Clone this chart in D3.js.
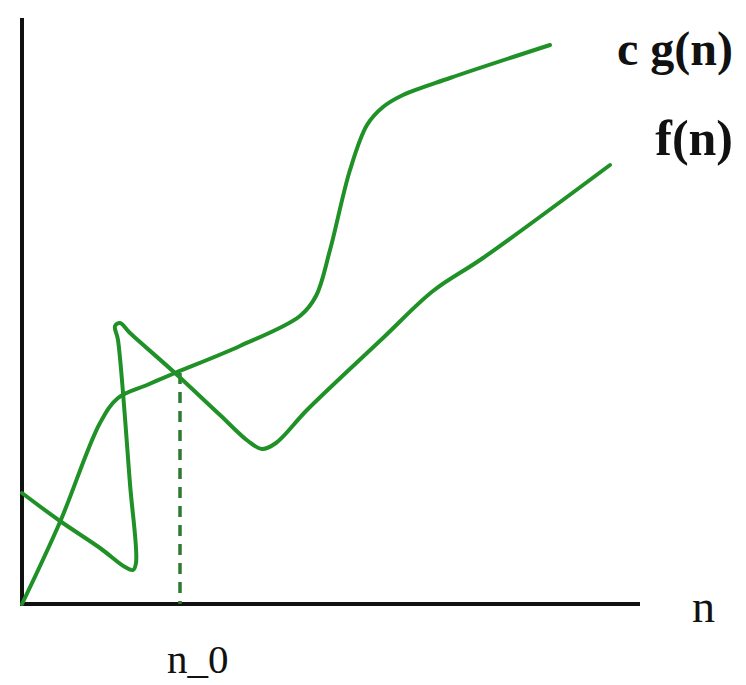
<!DOCTYPE html>
<html>
<head>
<meta charset="utf-8">
<script src="https://cdn.jsdelivr.net/npm/d3@7"></script>
<style>
  body { margin: 0; background: #fff; }
  svg { display: block; }
</style>
</head>
<body>
<div class="chart"></div>
<script>
'use strict'

// Curve points (n, value).
const cgN = [0, 38, 78, 96, 125, 153, 218, 278, 294, 308, 328, 345, 361, 381, 428, 528];
const cgV = [0, 82, 181, 206, 219, 231, 258, 288, 308, 354, 434, 479, 497, 509, 526, 559];

const fN = [0, 38, 78, 103, 111, 114, 108, 96, 93, 98, 108, 153, 198, 226, 240, 254, 285, 361, 411, 461, 588];
const fV = [111, 83, 56, 37, 34, 41, 120, 264, 278, 281, 271, 231, 189, 163, 155, 161, 194, 266, 313, 346, 439];

const n0 = 158;
const n0Value = 231;

const labels = ['c g(n)', 'f(n)', 'n', 'n_0'];

// Dimensions
const width = 746,
    height = 685,
    green = '#1f9127';

const x = d3.scaleLinear().domain([0, 620]).range([22, 642]);
const y = d3.scaleLinear().domain([0, 590]).range([604, 14]);

const svg = d3.select('.chart')
    .append('svg')
        .attr('width', width)
        .attr('height', height)
        .attr('viewBox', [0, 0, width, height]);

// Axes drawn as plain lines.
svg.append('line')
    .attr('x1', x(0)).attr('x2', x(0))
    .attr('y1', y(0) + 2).attr('y2', y(586))
    .attr('stroke', '#111').attr('stroke-width', 4);

svg.append('line')
    .attr('x1', x(0) - 2).attr('x2', x(618))
    .attr('y1', y(0)).attr('y2', y(0))
    .attr('stroke', '#111').attr('stroke-width', 4);

// n_0 dashed guide.
svg.append('line')
    .attr('x1', x(n0)).attr('x2', x(n0))
    .attr('y1', y(n0Value)).attr('y2', y(0))
    .attr('stroke', '#2f7a32')
    .attr('stroke-width', 3.5)
    .attr('stroke-dasharray', '11 8');

const line = d3.line()
    .x(d => x(d[0]))
    .y(d => y(d[1]))
    .curve(d3.curveCatmullRom.alpha(0.5));

const cg = d3.zip(cgN, cgV);
const f = d3.zip(fN, fV);

svg.selectAll('path.curve')
    .data([cg, f])
    .join('path')
        .attr('class', 'curve')
        .attr('d', line)
        .attr('fill', 'none')
        .attr('stroke', green)
        .attr('stroke-width', 4)
        .attr('stroke-linejoin', 'round')
        .attr('stroke-linecap', 'round');

// Labels
const serif = '"Liberation Serif", "DejaVu Serif", serif';

svg.append('text')
    .attr('x', 733).attr('y', 65)
    .attr('text-anchor', 'end')
    .attr('font-family', serif).attr('font-weight', 'bold').attr('font-size', 48)
    .attr('fill', '#111')
    .text(labels[0]);

svg.append('text')
    .attr('x', 733).attr('y', 155)
    .attr('text-anchor', 'end')
    .attr('font-family', serif).attr('font-weight', 'bold').attr('font-size', 50)
    .attr('fill', '#111')
    .text(labels[1]);

svg.append('text')
    .attr('x', 692).attr('y', 622)
    .attr('font-family', serif).attr('font-size', 46)
    .attr('fill', '#111')
    .text(labels[2]);

svg.append('text')
    .attr('x', 167).attr('y', 673)
    .attr('font-family', serif).attr('font-size', 41)
    .attr('fill', '#111')
    .text(labels[3]);
</script>
</body>
</html>
